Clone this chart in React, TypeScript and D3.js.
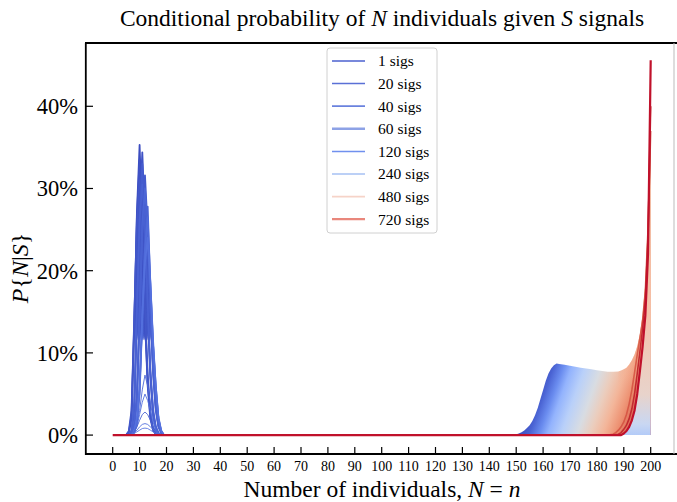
import React from "react";
import * as d3 from "d3";

const W = 677;
const H = 502;

// legend
const legendLabels = ["1 sigs", "20 sigs", "40 sigs", "60 sigs", "120 sigs", "240 sigs", "480 sigs", "720 sigs"];
const legendColors = ["#4b60cf", "#5a70d6", "#6a82de", "#8da2e6", "#7090ee", "#bcd0f6", "#f6d3c8", "#e9877c"];
const legendWidths = [1.5, 1.5, 1.8, 2.4, 1.5, 1.8, 1.8, 2.2];

// axis ticks
const xTickValues = [0, 10, 20, 30, 40, 50, 60, 70, 80, 90, 100, 110, 120, 130, 140, 150, 160, 170, 180, 190, 200];
const yTickValues = [0, 10, 20, 30, 40];

// few signals: narrow peaks near n = 10..13 (values in %)
const leftN = [5, 6, 7, 8, 9, 10, 11, 12, 13, 14, 15, 16, 17, 18, 19];
const leftCurves = [
  [0, 0.3, 2, 13, 27, 35.3, 25, 14, 6, 2, 0.6, 0.1, 0, 0, 0],
  [0, 0.4, 2.4, 13.5, 26.5, 33.5, 25.5, 14.5, 6.5, 2.3, 0.7, 0.2, 0, 0, 0],
  [0, 0.5, 3, 14, 25.5, 31, 25, 15.5, 7.5, 2.8, 0.9, 0.3, 0, 0, 0],
  [0, 0, 0.4, 3, 14, 27, 34.4, 26, 15, 7, 2.5, 0.8, 0.2, 0, 0],
  [0, 0, 0.5, 3.3, 14.5, 26.5, 33, 26, 15.5, 7.5, 2.8, 0.9, 0.2, 0, 0],
  [0, 0, 0.6, 4, 15.5, 26, 30.5, 25.5, 16, 8, 3.2, 1.1, 0.3, 0, 0],
  [0, 0, 0.2, 1, 4, 14, 26, 31.6, 25, 15, 7.5, 3, 1, 0.3, 0],
  [0, 0, 0.2, 1.2, 4.5, 14.5, 25.5, 30, 25, 15.5, 8, 3.3, 1.1, 0.3, 0],
  [0, 0, 0.3, 1.4, 5, 15, 24.5, 28, 24.5, 16, 8.5, 3.6, 1.2, 0.4, 0],
  [0, 0, 0, 0.3, 1.5, 5, 14, 23, 27.8, 18, 11, 6, 2, 0.5, 0],
  [0, 0, 0, 0.4, 1.7, 5.5, 14.5, 22.5, 26.5, 18.5, 11, 5.5, 2, 0.5, 0],
  [0, 0, 0, 0.5, 2, 6, 14.5, 21, 24, 18.5, 11.5, 6, 2.2, 0.6, 0],
  [0, 0, 0.1, 0.4, 1.2, 3, 5.5, 7.3, 6, 4, 2, 0.8, 0.2, 0, 0],
  [0, 0, 0.1, 0.3, 1, 2.5, 4, 5, 4.2, 3, 1.6, 0.6, 0.2, 0, 0],
  [0, 0, 0.1, 0.4, 1, 1.8, 2.5, 2.8, 2.5, 1.8, 1, 0.5, 0.2, 0, 0],
  [0, 0, 0.1, 0.3, 0.6, 1, 1.3, 1.4, 1.3, 1, 0.7, 0.4, 0.2, 0.1, 0],
  [0, 0, 0.1, 0.2, 0.4, 0.6, 0.8, 0.85, 0.8, 0.6, 0.4, 0.2, 0.1, 0, 0],
];
const leftColors = ["#3b4cc0", "#3e51c5", "#4257c9", "#3f53c6", "#455cce", "#4961d2", "#445acc", "#4c66d6", "#4961d2", "#4a63d3", "#506bda", "#5470de", "#4c66d6", "#5470de", "#4a63d3", "#5470de", "#5875e1"];

// many signals: upper envelope of the family of curves
const envN = [146, 148, 150, 151, 152, 153, 154, 155, 156, 157, 158, 159, 160, 161, 162, 163, 164, 165, 166, 168, 170, 172, 174, 176, 178, 180, 182, 184, 186, 188, 189, 190, 191, 192, 193, 194, 195, 196, 197, 198, 199, 200];
const envP = [0, 0.05, 0.1, 0.2, 0.35, 0.55, 0.85, 1.2, 1.7, 2.4, 3.3, 4.4, 5.5, 6.6, 7.5, 8.1, 8.5, 8.7, 8.65, 8.55, 8.45, 8.3, 8.2, 8.1, 8.0, 7.9, 7.8, 7.7, 7.7, 7.75, 7.85, 8.0, 8.2, 8.6, 9.1, 9.8, 10.8, 12.3, 14.6, 18.5, 27, 45.6];

// 720 signals
const redN = [0, 186, 188, 189, 190, 191, 192, 193, 194, 195, 196, 197, 198, 199, 200];
const redP = [0, 0, 0, 0, 0.2, 0.5, 1.0, 1.8, 3.0, 5.0, 7.8, 10.8, 14.5, 22, 45.6];

// 690 and 660 signals
const s690N = [186, 188, 189, 190, 191, 192, 193, 194, 195, 196, 197, 198, 199, 200];
const s690P = [0, 0.1, 0.3, 0.7, 1.2, 2.0, 3.2, 5.0, 7.5, 10.2, 13, 16.5, 24, 40];
const s660N = [184, 186, 187, 188, 189, 190, 191, 192, 193, 194, 195, 196, 197, 198, 199, 200];
const s660P = [0, 0.1, 0.3, 0.6, 1.0, 1.6, 2.5, 3.8, 5.5, 7.6, 9.8, 11.8, 14, 17.5, 25, 37];

const x = d3.scaleLinear().domain([-10, 210]).range([85.8, 677.6]);
const y = d3.scaleLinear().domain([-2.3, 47.7]).range([454, 43]);

const zip = (ns: number[], ps: number[]) => ns.map((n, i) => [n, ps[i]] as [number, number]);

const line = d3.line<[number, number]>().x(d => x(d[0])).y(d => y(d[1]));
const area = d3.area<[number, number]>().x(d => x(d[0])).y0(y(0)).y1(d => y(d[1]));

const serif = "'Liberation Serif', 'Times New Roman', serif";

export default function App() {
  const envelope = zip(envN, envP);
  const red = zip(redN, redP);
  const redTail = red.filter(d => d[0] >= 189);

  // gradient direction along u = x + y/2.8
  const g0 = [x(150), y(0)];
  const g1 = [g0[0] + 114.4, g0[1] + 40.9];

  return (
    <svg width={W} height={H} style={{ position: "absolute", left: 0, top: 0, background: "#fff" }} fontFamily={serif}>
      <defs>
        <linearGradient id="fam" gradientUnits="userSpaceOnUse" x1={g0[0]} y1={g0[1]} x2={g1[0]} y2={g1[1]}>
          <stop offset="0.02" stopColor="#3b4cc0" />
          <stop offset="0.10" stopColor="#4a63d3" />
          <stop offset="0.175" stopColor="#6a8cef" />
          <stop offset="0.24" stopColor="#93b3fd" />
          <stop offset="0.345" stopColor="#b9d0f9" />
          <stop offset="0.47" stopColor="#d8dce2" />
          <stop offset="0.57" stopColor="#ebcdbd" />
          <stop offset="0.67" stopColor="#f3b599" />
          <stop offset="0.76" stopColor="#ee9475" />
          <stop offset="0.86" stopColor="#de6a53" />
          <stop offset="1" stopColor="#c4363a" />
        </linearGradient>
        <linearGradient id="spike" gradientUnits="userSpaceOnUse" x1={0} y1={y(14)} x2={0} y2={y(6)}>
          <stop offset="0" stopColor="#f4a98a" stopOpacity={1} />
          <stop offset="1" stopColor="#f4a98a" stopOpacity={0} />
        </linearGradient>
        <linearGradient id="under" gradientUnits="userSpaceOnUse" x1={0} y1={y(45)} x2={0} y2={y(0)}>
          <stop offset="0" stopColor="#f4b193" />
          <stop offset="0.67" stopColor="#f5c3aa" />
          <stop offset="0.89" stopColor="#e8d3cb" />
          <stop offset="0.97" stopColor="#c9d7f2" />
          <stop offset="1" stopColor="#b3cbf8" />
        </linearGradient>
        <linearGradient id="blob" gradientUnits="userSpaceOnUse" x1={0} y1={y(14)} x2={0} y2={y(11.5)}>
          <stop offset="0" stopColor="#4259cb" stopOpacity={1} />
          <stop offset="1" stopColor="#4259cb" stopOpacity={0} />
        </linearGradient>
      </defs>

      {/* family of curves for many signals */}
      <path d={area(envelope) || ""} fill="url(#fam)" />
      <path d={area(envelope.filter(d => d[0] >= 188)) || ""} fill="url(#spike)" />
      <path d={area(redTail) || ""} fill="url(#under)" />
      <path d={line(zip(s660N, s660P)) || ""} fill="none" stroke="#d4503f" strokeWidth={1.6} opacity={0.85} />
      <path d={line(zip(s690N, s690P)) || ""} fill="none" stroke="#c22b30" strokeWidth={1.6} />

      {/* few signals */}
      {leftCurves.slice(0, 12).map((c, i) => (
        <path key={"f" + i} d={area(zip(leftN, c)) || ""} fill="url(#blob)" />
      ))}
      {leftCurves.map((c, i) => (
        <path key={i} d={line(zip(leftN, c)) || ""} fill="none" stroke={leftColors[i]} strokeWidth={i > 11 ? 0.9 : 1.8} strokeLinejoin="round" />
      ))}

      <path d={line(red) || ""} fill="none" stroke="#c0112b" strokeWidth={2.2} strokeLinejoin="round" />

      {/* frame */}
      <line x1={85.8} x2={85.8} y1={43} y2={455} stroke="#000" strokeWidth={1.8} />
      <line x1={85} x2={W} y1={454} y2={454} stroke="#000" strokeWidth={1.8} />
      <line x1={85} x2={W} y1={43} y2={43} stroke="#000" strokeWidth={1.8} />
      <line x1={674} x2={674} y1={43} y2={454} stroke="#bbb" strokeWidth={1} />

      {xTickValues.map(v => (
        <g key={v} transform={`translate(${x(v)},0)`}>
          <line y1={454} y2={447} stroke="#000" strokeWidth={1.2} />
          <text y={471} textAnchor="middle" fontSize={14}>{v}</text>
        </g>
      ))}
      {yTickValues.map(v => (
        <g key={v} transform={`translate(0,${y(v)})`}>
          <line x1={85.8} x2={93} stroke="#000" strokeWidth={1.2} />
          <text x={78} dy="0.35em" textAnchor="end" fontSize={22.5}>{v}%</text>
        </g>
      ))}

      {/* legend */}
      <rect x={327} y={48} width={110} height={185} rx={3} fill="#fff" fillOpacity={0.8} stroke="#d0d0d0" />
      {legendLabels.map((l, i) => (
        <g key={l} transform={`translate(0,${61 + i * 22.6})`}>
          <line x1={332} x2={365} stroke={legendColors[i]} strokeWidth={legendWidths[i]} />
          <text x={378} dy="0.35em" fontSize={15.5}>{l}</text>
        </g>
      ))}

      {/* titles */}
      <text x={382} y={26} textAnchor="middle" fontSize={23.5}>
        Conditional probability of <tspan fontStyle="italic">N</tspan> individuals given <tspan fontStyle="italic">S</tspan> signals
      </text>
      <text x={382} y={497} textAnchor="middle" fontSize={23.5}>
        Number of individuals, <tspan fontStyle="italic">N</tspan> = <tspan fontStyle="italic">n</tspan>
      </text>
      <text transform="translate(28,268) rotate(-90)" textAnchor="middle" fontSize={24}>
        <tspan fontStyle="italic">P</tspan>{"{"}<tspan fontStyle="italic">N</tspan>|<tspan fontStyle="italic">S</tspan>{"}"}
      </text>
    </svg>
  );
}
